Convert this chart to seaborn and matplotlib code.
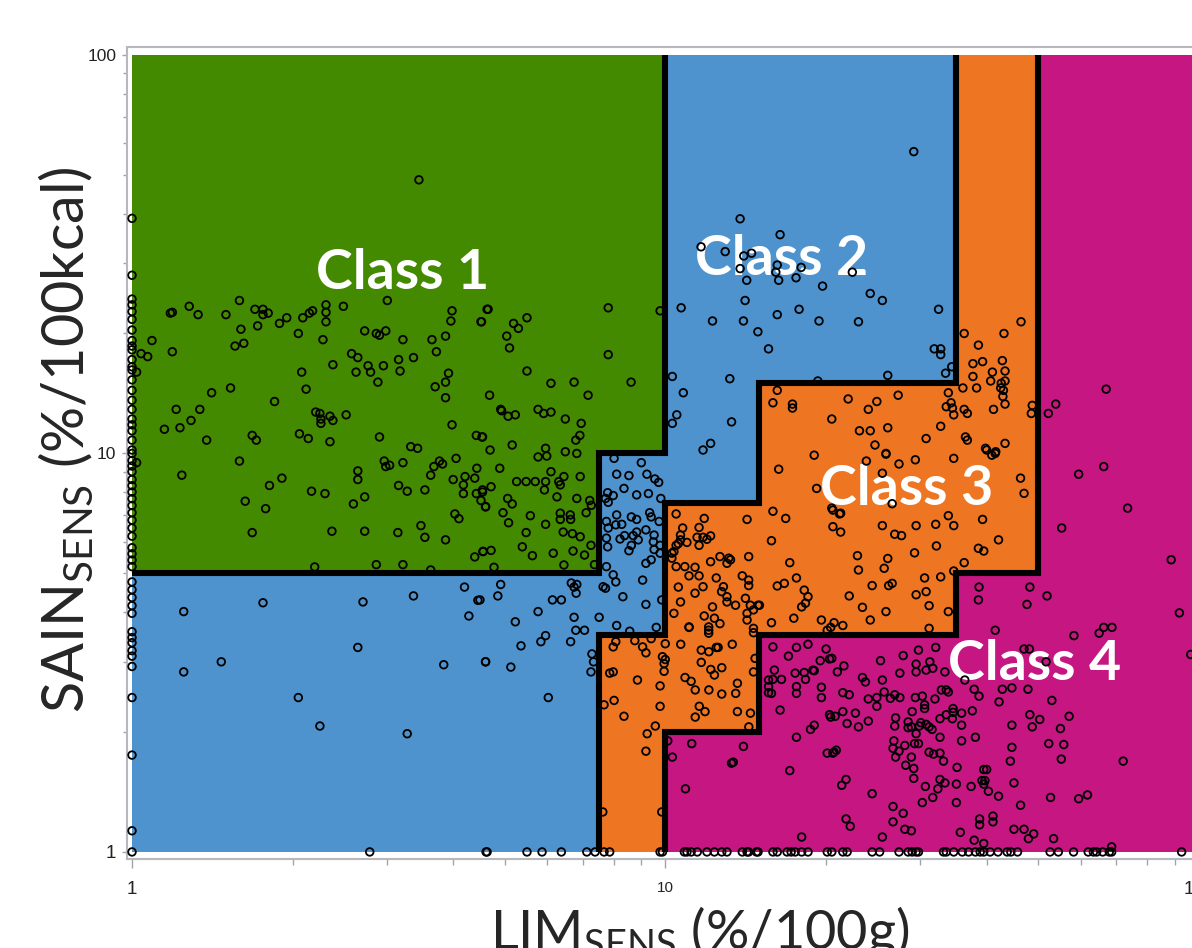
"""
Nutrient profiling classes: SAIN vs LIM scatter on log-log axes with class regions.
"""

import numpy as np
import pandas as pd
import matplotlib
matplotlib.use('Agg')
import matplotlib.pyplot as plt
from matplotlib.ticker import LogLocator, NullFormatter, FixedLocator
import seaborn as sns

# class boundaries (LIM thresholds on x, SAIN thresholds on y)
x_edges = [1, 7.5, 10, 15, 35, 50, 100]
green_floor = [5, 10, 100, 100, 100, 100]
blue_floor = [1, 3.5, 7.5, 15, 100, 100]
orange_floor = [1, 1, 2, 3.5, 5, 100]

border_12 = ([10, 10, 7.5, 7.5, 1], [100, 10, 10, 5, 5])
border_23 = ([35, 35, 15, 15, 10, 10, 7.5, 7.5], [100, 15, 15, 7.5, 7.5, 3.5, 3.5, 1])
border_34 = ([50, 50, 35, 35, 15, 15, 10, 10], [100, 5, 5, 3.5, 3.5, 2, 2, 1])

region_colors = ['#C51682', '#EE7622', '#4F93CE', '#448A00']

class_names = ['Class 1', 'Class 2', 'Class 3', 'Class 4']
label_x = [3.21, 16.5, 28.3, 49.2]
label_y = [25.9, 28.0, 7.43, 2.70]

# foods (LIM, SAIN)
class1_pts = [
    (1.0, 38.9), (1.0, 28.0), (1.0, 24.4), (1.0, 23.6), (1.0, 22.7), (1.0, 21.7), (1.0, 20.4),
    (1.0, 19.2), (1.0, 18.6), (1.0, 18.2), (1.0, 17.2), (1.0, 16.5), (1.0, 16.2), (1.0, 15.3),
    (1.0, 14.4), (1.0, 13.6), (1.0, 12.9), (1.0, 12.2), (1.0, 11.8), (1.0, 11.4), (1.0, 10.8),
    (1.0, 10.2), (1.0, 10.0), (1.0, 9.6), (1.0, 9.3), (1.0, 9.0), (1.0, 8.6), (1.0, 8.3),
    (1.0, 8.0), (1.0, 7.7), (1.0, 7.4), (1.0, 7.1), (1.0, 6.8), (1.0, 6.5), (1.0, 6.2),
    (1.0, 5.8), (1.0, 5.6), (1.0, 5.4), (1.0, 5.2), (1.02, 16.0), (1.02, 9.48),
    (3.45, 48.6), (1.59, 24.2), (1.28, 23.4), (1.19, 22.6), (1.18, 22.5), (1.33, 22.3), (1.50, 22.3),
    (1.70, 23.0), (1.76, 23.0), (1.76, 22.3), (1.80, 22.5), (1.60, 20.5), (1.72, 20.9), (1.89, 21.2),
    (1.95, 21.9), (2.09, 21.9), (2.15, 22.5), (2.18, 22.8), (2.31, 23.6), (2.31, 22.6), (2.31, 21.4),
    (2.49, 23.4), (3.01, 24.2), (2.05, 20.0), (2.28, 19.3), (2.73, 20.3), (2.87, 20.0), (2.91, 19.8),
    (2.99, 20.3), (3.22, 19.3), (3.65, 19.3), (3.87, 19.7), (3.96, 21.5), (3.98, 22.8), (4.51, 21.4),
    (1.09, 19.2), (1.19, 18.0), (1.04, 17.8), (1.07, 17.5), (1.56, 18.6), (1.62, 18.9), (2.58, 17.8),
    (2.65, 17.4), (2.38, 16.7), (2.08, 16.0), (2.63, 16.0), (2.77, 16.6), (2.80, 16.0), (2.96, 16.6),
    (3.16, 17.2), (3.18, 16.1), (3.37, 17.4), (3.72, 18.0), (3.92, 15.9), (3.87, 15.1), (3.70, 14.7),
    (3.87, 13.8), (2.89, 15.1), (2.12, 14.5), (1.85, 13.5), (1.53, 14.6), (1.41, 14.2), (1.21, 12.9),
    (1.34, 12.9), (1.29, 12.1), (1.15, 11.5), (1.23, 11.6), (1.38, 10.8), (1.68, 11.1), (1.71, 10.8),
    (2.21, 12.7), (2.25, 12.6), (2.26, 12.2), (2.26, 11.9), (2.35, 12.4), (2.38, 12.1), (2.52, 12.5),
    (2.06, 11.2), (2.14, 10.9), (2.35, 10.7), (2.91, 11.0), (3.33, 10.4), (3.43, 10.3), (3.98, 11.8),
    (4.42, 11.1), (4.53, 11.0), (4.63, 23.0),
    (1.59, 9.57), (1.24, 8.82), (1.91, 8.67), (1.81, 8.31), (1.63, 7.59), (1.78, 7.27), (1.68, 6.33),
    (2.65, 9.04), (2.65, 8.60), (2.17, 8.04), (2.30, 7.93), (2.60, 7.47), (2.73, 7.78), (2.37, 6.38),
    (2.73, 6.38), (3.15, 6.33), (3.48, 6.59), (3.54, 6.16), (3.87, 6.07), (2.97, 9.57), (2.99, 9.27),
    (3.04, 9.34), (3.22, 9.48), (3.16, 8.31), (3.28, 8.04), (3.54, 8.10), (3.63, 8.82), (3.68, 9.27),
    (3.77, 9.57), (3.82, 9.41), (4.05, 9.72), (4.00, 8.60), (4.18, 8.34), (4.21, 8.75), (4.39, 8.67),
    (4.43, 9.18), (4.18, 7.93), (4.42, 7.93), (4.51, 7.62), (4.54, 8.10), (4.03, 7.05), (4.10, 6.86),
    (4.60, 7.34), (4.39, 5.50), (4.55, 5.68), (2.20, 5.19), (2.87, 5.26), (3.22, 5.26), (3.63, 5.10),
    (4.65, 23.0), (4.52, 21.4), (5.19, 21.2), (5.30, 20.6), (5.50, 21.9), (5.04, 19.7), (5.10, 18.4),
    (7.81, 23.2), (7.81, 17.7), (9.77, 22.8), (5.50, 16.1), (6.10, 15.0), (6.74, 15.1), (8.62, 15.1),
    (4.68, 14.0), (7.16, 14.0), (4.91, 12.9), (4.93, 12.8), (5.07, 12.4), (5.23, 12.5), (5.77, 12.9),
    (5.91, 12.6), (6.10, 12.7), (6.49, 12.2), (6.95, 11.9), (6.91, 11.1), (6.79, 10.8), (4.54, 11.0),
    (5.16, 10.5), (5.96, 10.3), (6.49, 10.1), (4.69, 10.2),
    (4.89, 9.18), (4.71, 8.25), (4.54, 8.0), (4.60, 7.36), (5.26, 8.50), (5.48, 8.50), (5.70, 8.50),
    (5.96, 8.50), (6.10, 9.0), (5.77, 9.8), (5.99, 9.85), (6.31, 8.50), (6.45, 8.75), (6.92, 8.75),
    (6.35, 8.34), (5.93, 8.10), (6.26, 7.78), (6.82, 7.71), (5.06, 7.71), (5.16, 7.47), (4.96, 7.10),
    (5.08, 6.70), (5.58, 6.98), (5.96, 6.64), (6.35, 7.08), (6.35, 6.83), (6.64, 6.83), (6.63, 7.01),
    (7.10, 7.10), (7.26, 7.41), (7.21, 7.62), (6.92, 6.18), (6.69, 6.29), (6.43, 6.35), (5.48, 6.33),
    (5.39, 5.83), (5.63, 5.54), (6.16, 5.62), (6.71, 5.69), (7.25, 5.88), (7.05, 5.56), (4.55, 5.67),
    (4.71, 5.71), (4.77, 5.18), (6.45, 5.25), (7.36, 5.26), (6.82, 10.0),
]

class2_pts = [
    (1.0, 4.76), (1.0, 4.55), (1.0, 4.35), (1.0, 4.15), (1.0, 3.97), (1.0, 3.57), (1.0, 3.45),
    (1.0, 3.35), (1.0, 3.2), (1.0, 3.1), (1.0, 2.92), (1.0, 2.44), (1.0, 1.75), (1.0, 1.13), (1.0, 1.0),
    (1.25, 4.01), (1.76, 4.22), (2.71, 4.24), (3.37, 4.39), (4.20, 4.62), (4.45, 4.28), (4.28, 3.91),
    (2.65, 3.26), (1.47, 3.00), (1.25, 2.83), (3.84, 2.95), (4.60, 3.00), (2.05, 2.44), (2.25, 2.07),
    (3.28, 1.98), (2.79, 1.0), (4.61, 1.0),
    (13.8, 38.8), (16.4, 35.4), (11.66, 33.0), (12.94, 32.1), (14.02, 31.3), (14.5, 31.8), (13.8, 29.1),
    (16.2, 29.7), (17.96, 29.3), (16.1, 28.5), (16.3, 27.2), (14.2, 27.2), (17.57, 27.6), (19.7, 26.3),
    (14.1, 24.2), (10.7, 23.2), (12.25, 21.5), (14.0, 21.5), (16.2, 22.3), (17.8, 23.0), (19.4, 21.5),
    (14.9, 20.2), (15.6, 18.3), (10.3, 15.6), (13.2, 15.4), (10.8, 14.2), (10.5, 12.5), (10.3, 11.9),
    (13.3, 12.0), (12.15, 10.6), (11.76, 10.2), (19.3, 15.2),
    (29.2, 57.2), (24.2, 25.2), (25.5, 24.2), (32.5, 23.0), (23.0, 21.4), (31.9, 18.3), (32.8, 18.3),
    (32.8, 17.7), (26.1, 15.7), (33.5, 15.9), (34.4, 16.5), (22.4, 28.5),
    (8.01, 9.72), (9.01, 9.48), (8.10, 8.87), (8.54, 8.80), (9.23, 8.87), (9.55, 8.63), (9.71, 8.46),
    (9.80, 7.71), (8.36, 8.17), (8.83, 7.87), (9.29, 7.93), (7.79, 7.97), (7.72, 7.71), (7.98, 7.84),
    (7.81, 7.54), (8.10, 7.01), (8.63, 6.93), (8.83, 6.83), (9.34, 7.10), (9.40, 6.93), (9.73, 6.75),
    (7.75, 6.75), (7.81, 6.50), (8.07, 6.62), (8.28, 6.64), (9.19, 6.43), (9.52, 6.24), (9.49, 6.0),
    (9.77, 5.88), (9.52, 5.74), (9.77, 5.62), (8.89, 6.07), (8.63, 5.88), (8.22, 6.10), (8.38, 6.22),
    (8.70, 6.22), (8.83, 6.35), (8.54, 5.70), (7.75, 6.13), (7.79, 5.83), (9.40, 5.41), (9.19, 5.30),
    (7.75, 5.20), (7.98, 4.96), (8.07, 4.76), (7.64, 4.63), (7.72, 4.59), (9.06, 4.81), (8.32, 4.37),
    (9.19, 4.18), (9.84, 4.29), (7.51, 3.88), (8.10, 3.70), (8.57, 3.58), (9.61, 3.66),
    (6.74, 4.62), (6.66, 4.73), (6.82, 4.69), (6.80, 4.46), (6.14, 4.29), (6.38, 4.29), (5.77, 4.01),
    (5.23, 3.78), (4.85, 4.39), (4.91, 4.69), (4.49, 4.29), (6.74, 3.88), (6.79, 3.60), (7.05, 3.60),
    (5.96, 3.49), (5.84, 3.37), (6.64, 3.37), (5.36, 3.29), (7.28, 3.14), (7.33, 3.0), (7.25, 2.83),
    (4.60, 3.00), (5.13, 2.91), (6.03, 2.44),
    (4.63, 1.0), (5.50, 1.0), (5.87, 1.0), (6.38, 1.0), (7.12, 1.0), (7.38, 1.0),
]

class3_pts = [
    (16.2, 14.4), (15.9, 13.4), (17.3, 13.3), (17.3, 13.0), (20.5, 12.2), (19.0, 9.9),
    (46.4, 21.4), (36.3, 20.0), (43.1, 20.0), (38.6, 18.7), (39.3, 17.0), (37.7, 16.8), (42.8, 17.1),
    (43.3, 16.1), (41.0, 16.0), (40.7, 15.2), (43.3, 15.2), (42.6, 15.0), (37.7, 15.6), (42.5, 14.6),
    (43.0, 14.4), (42.9, 13.9), (43.3, 13.3), (36.1, 14.6), (38.3, 14.6), (33.9, 14.2), (33.6, 13.1),
    (34.3, 13.4), (34.7, 12.5), (34.5, 13.0), (36.3, 12.9), (36.8, 12.6), (41.2, 12.9), (48.7, 13.2),
    (48.5, 12.6), (27.3, 14.0), (24.9, 13.5), (24.0, 12.9), (22.0, 13.7), (32.8, 11.7), (26.1, 11.6),
    (23.1, 11.4), (24.2, 11.4), (30.8, 10.9), (24.7, 10.5), (36.5, 11.0), (36.8, 10.8), (43.3, 10.6),
    (39.8, 10.3), (41.6, 10.1), (25.9, 10.0),
    (10.47, 7.05), (11.82, 6.87), (11.56, 6.52), (10.77, 6.50), (10.67, 6.24), (10.67, 6.07),
    (10.97, 5.98), (10.57, 5.94), (10.47, 5.88), (10.28, 5.62), (10.28, 5.46), (10.37, 5.67),
    (11.46, 6.16), (11.56, 5.88), (11.76, 6.16), (11.96, 6.09), (12.15, 6.21), (12.15, 5.35),
    (12.65, 5.51), (13.14, 5.46), (13.24, 5.41), (13.04, 5.30), (14.32, 5.51), (14.22, 6.83),
    (10.47, 5.20), (10.87, 5.20), (11.36, 5.18), (11.07, 4.93), (11.56, 4.93), (10.57, 4.62),
    (10.67, 4.24), (11.36, 4.46), (11.76, 4.63), (10.37, 3.97), (11.07, 3.66), (12.05, 3.60),
    (12.45, 4.87), (12.84, 4.63), (12.74, 4.50), (13.04, 4.37), (13.04, 4.24), (13.53, 4.16),
    (13.93, 4.93), (14.32, 4.81), (14.32, 4.66), (14.12, 4.33), (14.42, 4.16), (14.91, 4.16),
    (14.62, 4.05), (14.22, 3.82), (14.22, 3.97), (11.82, 3.91), (12.25, 4.12), (12.35, 3.86),
    (12.65, 3.74), (12.05, 3.67), (12.05, 3.54), (11.07, 3.67), (14.62, 3.64), (14.62, 3.55),
    (7.98, 3.27), (8.07, 3.37), (8.76, 3.39), (9.06, 3.27), (9.19, 3.16), (9.40, 3.43), (7.86, 2.81),
    (7.98, 2.83), (8.86, 2.70), (8.01, 2.40), (8.36, 2.19), (9.77, 2.61), (9.77, 2.32), (9.57, 2.07),
    (9.24, 1.98), (9.19, 1.79), (7.67, 2.34), (7.63, 1.26), (9.84, 1.26), (9.87, 3.09), (9.94, 2.97),
    (9.99, 3.04), (9.94, 2.84), (10.68, 3.32), (11.67, 3.21), (12.06, 3.18), (11.67, 2.99),
    (12.45, 3.26), (12.55, 3.26), (13.34, 3.32), (12.35, 2.78), (12.75, 2.90), (12.16, 2.87),
    (10.88, 2.74), (11.17, 2.68), (11.37, 2.55), (12.06, 2.55), (12.75, 2.49), (13.54, 2.50),
    (13.64, 2.65), (11.57, 2.32), (11.86, 2.25), (11.37, 2.18), (13.64, 2.25), (14.43, 2.23),
    (14.62, 2.83), (14.72, 3.06), (14.33, 2.06), (9.99, 3.33),
    (7.67, 1.0), (7.86, 1.0), (9.77, 1.0), (9.87, 1.0),
    (16.3, 9.13), (19.2, 8.17), (15.9, 7.16), (16.8, 6.87), (15.8, 6.04), (17.1, 5.32), (17.6, 4.87),
    (16.2, 4.65), (16.7, 4.72), (18.2, 4.54), (18.5, 4.37), (18.3, 4.21), (18.0, 4.12), (15.0, 4.16),
    (15.8, 3.76), (19.6, 3.82), (20.1, 3.60), (20.4, 3.66), (17.4, 3.86), (20.5, 7.29), (20.6, 6.55),
    (21.3, 7.08),
    (23.8, 9.57), (25.9, 9.96), (27.4, 9.41), (29.4, 9.64), (34.7, 9.72), (40.0, 10.2), (40.9, 9.9),
    (41.5, 10.0), (25.5, 8.92), (46.3, 8.67), (47.0, 7.94), (20.6, 7.21), (21.2, 7.05), (26.6, 7.48),
    (21.3, 6.35), (25.5, 6.59), (26.9, 6.27), (27.7, 6.22), (29.5, 6.59), (32.1, 6.64), (34.7, 6.59),
    (33.9, 6.98), (39.3, 6.83), (42.1, 6.07), (38.6, 5.78), (39.5, 5.69), (36.3, 5.32), (34.7, 5.07),
    (32.2, 5.86), (29.3, 5.63), (22.9, 5.54), (23.0, 5.10), (26.1, 5.45), (25.7, 5.15), (24.4, 4.66),
    (26.6, 4.72), (26.2, 4.66), (30.6, 4.87), (32.8, 4.90), (30.8, 4.50), (29.5, 4.42), (22.1, 4.39),
    (23.4, 4.11), (25.9, 4.01), (31.2, 4.15), (33.9, 4.01), (24.2, 3.82), (20.7, 3.76), (21.5, 3.70),
    (31.2, 3.64),
]

class4_pts = [
    (67.0, 14.5), (53.9, 13.3), (52.2, 12.6),
    (15.9, 3.27), (17.0, 3.10), (17.6, 3.26), (18.5, 3.32), (20.0, 3.23), (19.5, 3.02), (20.3, 3.05),
    (16.0, 2.86), (17.5, 2.81), (18.2, 2.82), (18.9, 2.86), (19.0, 2.85), (18.3, 2.71), (21.0, 2.83),
    (15.6, 2.70), (15.9, 2.71), (16.5, 2.71), (15.6, 2.60), (15.8, 2.50), (15.6, 2.51), (17.6, 2.60),
    (17.6, 2.50), (19.6, 2.59), (19.6, 2.44), (16.4, 2.27), (20.3, 2.21), (20.4, 2.18), (19.0, 2.08),
    (18.7, 2.03), (17.6, 1.94), (20.1, 1.77), (20.6, 1.77), (17.1, 1.60), (14.0, 1.84), (13.3, 1.67),
    (13.4, 1.68), (11.2, 1.87), (10.3, 1.73), (10.1, 1.90), (10.9, 1.44), (18.0, 1.09),
    (10.85, 1.0), (10.97, 1.0), (11.17, 1.0), (11.47, 1.0), (11.96, 1.0), (12.35, 1.0), (12.75, 1.0),
    (13.04, 1.0), (13.93, 1.0), (14.22, 1.0), (14.32, 1.0), (14.81, 1.0), (14.91, 1.0), (15.9, 1.0),
    (16.2, 1.0), (16.9, 1.0), (17.2, 1.0), (17.5, 1.0), (18.0, 1.0), (18.5, 1.0), (20.1, 1.0),
    (66.3, 9.27), (59.5, 8.87), (73.5, 7.29), (55.3, 6.50), (88.7, 5.41), (91.9, 3.98), (96.5, 3.13),
    (38.7, 4.62), (38.6, 4.29), (48.2, 4.62), (51.9, 4.39), (47.6, 4.18), (41.5, 3.60), (58.3, 3.49),
    (66.3, 3.66), (68.7, 3.66), (65.0, 3.54), (47.0, 3.23), (48.1, 3.23), (51.7, 3.00), (29.8, 3.21),
    (32.1, 3.26), (27.9, 3.11), (25.3, 3.02), (29.5, 2.96), (31.3, 3.0), (31.7, 2.89), (21.6, 2.93),
    (20.5, 3.06), (27.5, 2.81), (29.5, 2.83), (23.4, 2.74), (23.7, 2.67), (25.5, 2.70), (30.8, 2.86),
    (42.8, 2.56), (44.6, 2.58), (47.8, 2.56), (42.2, 2.38), (53.0, 2.40), (57.1, 2.19), (55.0, 2.04),
    (55.8, 1.86), (52.3, 1.87), (55.2, 1.71), (72.1, 1.69), (48.2, 2.21), (50.3, 2.15), (48.7, 2.06),
    (44.6, 2.08), (44.6, 1.83), (44.3, 1.69), (45.0, 1.49), (52.7, 1.37), (59.5, 1.36), (61.8, 1.39),
    (46.3, 1.31), (45.0, 1.14), (47.0, 1.14), (49.0, 1.11), (47.9, 1.08), (53.4, 1.08),
    (21.5, 2.51), (22.1, 2.48), (24.0, 2.42), (24.9, 2.44), (24.9, 2.32), (25.7, 2.52), (26.4, 2.43),
    (26.9, 2.48), (27.5, 2.44), (29.4, 2.44), (30.3, 2.46), (32.0, 2.42), (32.9, 2.55), (33.9, 2.52),
    (38.7, 2.46), (20.8, 2.19), (21.5, 2.25), (22.7, 2.23), (21.9, 2.10), (23.0, 2.06), (24.0, 2.13),
    (27.0, 2.17), (29.0, 2.25), (30.6, 2.34), (30.6, 2.29), (32.7, 2.16), (33.6, 2.21), (34.6, 2.29),
    (34.6, 2.24), (37.6, 2.26), (35.9, 2.08), (29.9, 2.07), (30.8, 2.09), (31.2, 2.06), (28.9, 2.06),
    (29.5, 1.98), (31.6, 2.03), (29.8, 1.87), (29.3, 1.87), (32.7, 1.94), (26.8, 1.90), (28.1, 1.85),
    (27.4, 1.79), (27.0, 1.73), (28.9, 1.73), (31.8, 1.76), (33.2, 1.69), (35.9, 1.90), (38.1, 1.94),
    (28.2, 1.65), (29.2, 1.62), (35.2, 1.63), (29.2, 1.53), (32.7, 1.52), (33.4, 1.49), (35.1, 1.48),
    (32.4, 1.44), (30.7, 1.46), (31.7, 1.37), (30.3, 1.33), (35.1, 1.33), (37.4, 1.46), (39.2, 1.51),
    (39.7, 1.51), (39.5, 1.48), (40.3, 1.42), (42.1, 1.38), (39.5, 1.61), (40.0, 1.61), (24.4, 1.40),
    (21.4, 1.47), (21.8, 1.52), (26.7, 1.30), (26.7, 1.19), (27.9, 1.25), (28.1, 1.14), (28.9, 1.13),
    (25.5, 1.09), (21.8, 1.21), (22.2, 1.16), (35.7, 1.12), (37.9, 1.07), (39.5, 1.05), (38.8, 1.21),
    (38.8, 1.17), (41.1, 1.23), (41.1, 1.19), (20.9, 1.80), (20.7, 1.78), (26.9, 2.07), (28.5, 2.12),
    (28.5, 2.05), (30.1, 2.11), (35.9, 2.23), (34.5, 2.16), (26.7, 1.82), (31.2, 1.78), (33.4, 2.83),
    (33.6, 2.55), (37.9, 2.56), (36.4, 2.70), (32.7, 1.77), (68.6, 1.03),
    (20.5, 1.0), (21.5, 1.0), (21.9, 1.0), (24.4, 1.0), (25.2, 1.0), (27.4, 1.0), (28.5, 1.0),
    (29.0, 1.0), (29.5, 1.0), (29.8, 1.0), (33.2, 1.0), (33.6, 1.0), (34.7, 1.0), (36.0, 1.0),
    (37.0, 1.0), (38.1, 1.0), (38.9, 1.0), (39.5, 1.0), (40.6, 1.0), (42.0, 1.0), (43.7, 1.0),
    (44.4, 1.0), (45.7, 1.0), (52.6, 1.0), (54.5, 1.0), (58.2, 1.0), (62.0, 1.0), (63.4, 1.0),
    (64.3, 1.0), (66.0, 1.0), (67.9, 1.0), (68.6, 1.0), (92.8, 1.0),
]


def build_frame():
    rows = []
    for name, pts in zip(class_names, [class1_pts, class2_pts, class3_pts, class4_pts]):
        for x, y in pts:
            rows.append({'lim': x, 'sain': y, 'cls': name})
    return pd.DataFrame(rows)


def main():
    sns.set_style('ticks')
    plt.rcParams['font.family'] = ['Lato', 'DejaVu Sans']
    plt.rcParams['mathtext.default'] = 'regular'

    df = build_frame()

    fig = plt.figure(figsize=(11.92, 9.48), dpi=100)
    ax = fig.add_axes([127 / 1192, 89 / 948, 1077 / 1192, 812 / 948])
    ax.set_xscale('log')
    ax.set_yscale('log')

    # coloured class regions
    top = [100] * len(green_floor)
    one = [1] * len(green_floor)
    layers = [(one, orange_floor), (orange_floor, blue_floor),
              (blue_floor, green_floor), (green_floor, top)]
    for (lo, hi), col in zip(layers, region_colors):
        ax.fill_between(x_edges, lo + [lo[-1]], hi + [hi[-1]], step='post',
                        color=col, lw=0, zorder=1)

    for i, name in enumerate(class_names):
        ax.text(label_x[i], label_y[i], name, ha='center', va='baseline',
                color='white', fontsize=40, fontweight='bold', zorder=2)

    sns.scatterplot(data=df, x='lim', y='sain', ax=ax, marker='o', s=30,
                    facecolor='none', edgecolor='black', linewidth=1.3,
                    legend=False, zorder=3)

    for bx, by in [border_12, border_23, border_34]:
        ax.plot(bx, by, color='black', lw=4.4, solid_joinstyle='miter',
                solid_capstyle='butt', zorder=4)

    ax.set_xlim(0.9786, 102.2)
    ax.set_ylim(0.960, 104.7)

    ax.xaxis.set_major_locator(FixedLocator([1, 10, 100]))
    ax.yaxis.set_major_locator(FixedLocator([1, 10, 100]))
    ax.xaxis.set_minor_locator(LogLocator(base=10, subs=np.arange(2, 10)))
    ax.yaxis.set_minor_locator(LogLocator(base=10, subs=np.arange(2, 10)))
    ax.xaxis.set_minor_formatter(NullFormatter())
    ax.yaxis.set_minor_formatter(NullFormatter())
    ax.set_xticklabels(['1', '10', '100'])
    ax.set_yticklabels(['1', '10', '100'])

    tick_grey = '#A0A4A8'
    ax.tick_params(axis='x', which='major', length=6.5, width=1, color=tick_grey, pad=9)
    ax.tick_params(axis='x', which='minor', length=4.5, width=1, color=tick_grey)
    ax.tick_params(axis='y', which='major', length=3.6, width=1, color=tick_grey, pad=4)
    ax.tick_params(axis='y', which='minor', length=3, width=1, color=tick_grey)
    for lab, size in zip(ax.get_xticklabels(), [13.5, 11, 13.5]):
        lab.set_family('Liberation Sans')
        lab.set_color('#222222')
        lab.set_fontsize(size)
    for lab, size in zip(ax.get_yticklabels(), [13.5, 12.5, 12.5]):
        lab.set_family('Liberation Sans')
        lab.set_color('#222222')
        lab.set_fontsize(size)

    for side in ['left', 'top', 'bottom', 'right']:
        ax.spines[side].set_color('#B5B9BD')
        ax.spines[side].set_linewidth(1.5)

    ax.set_xlabel('LIM$_{SENS}$ (%/100g)', fontsize=39)
    ax.set_ylabel('SAIN$_{SENS}$ (%/100kcal)', fontsize=41.5)
    ax.xaxis.set_label_coords(0.532, -0.056)
    ax.yaxis.set_label_coords(-0.030, 0.516)

    fig.savefig('out.png', dpi=100)
    plt.close(fig)


if __name__ == '__main__':
    main()
